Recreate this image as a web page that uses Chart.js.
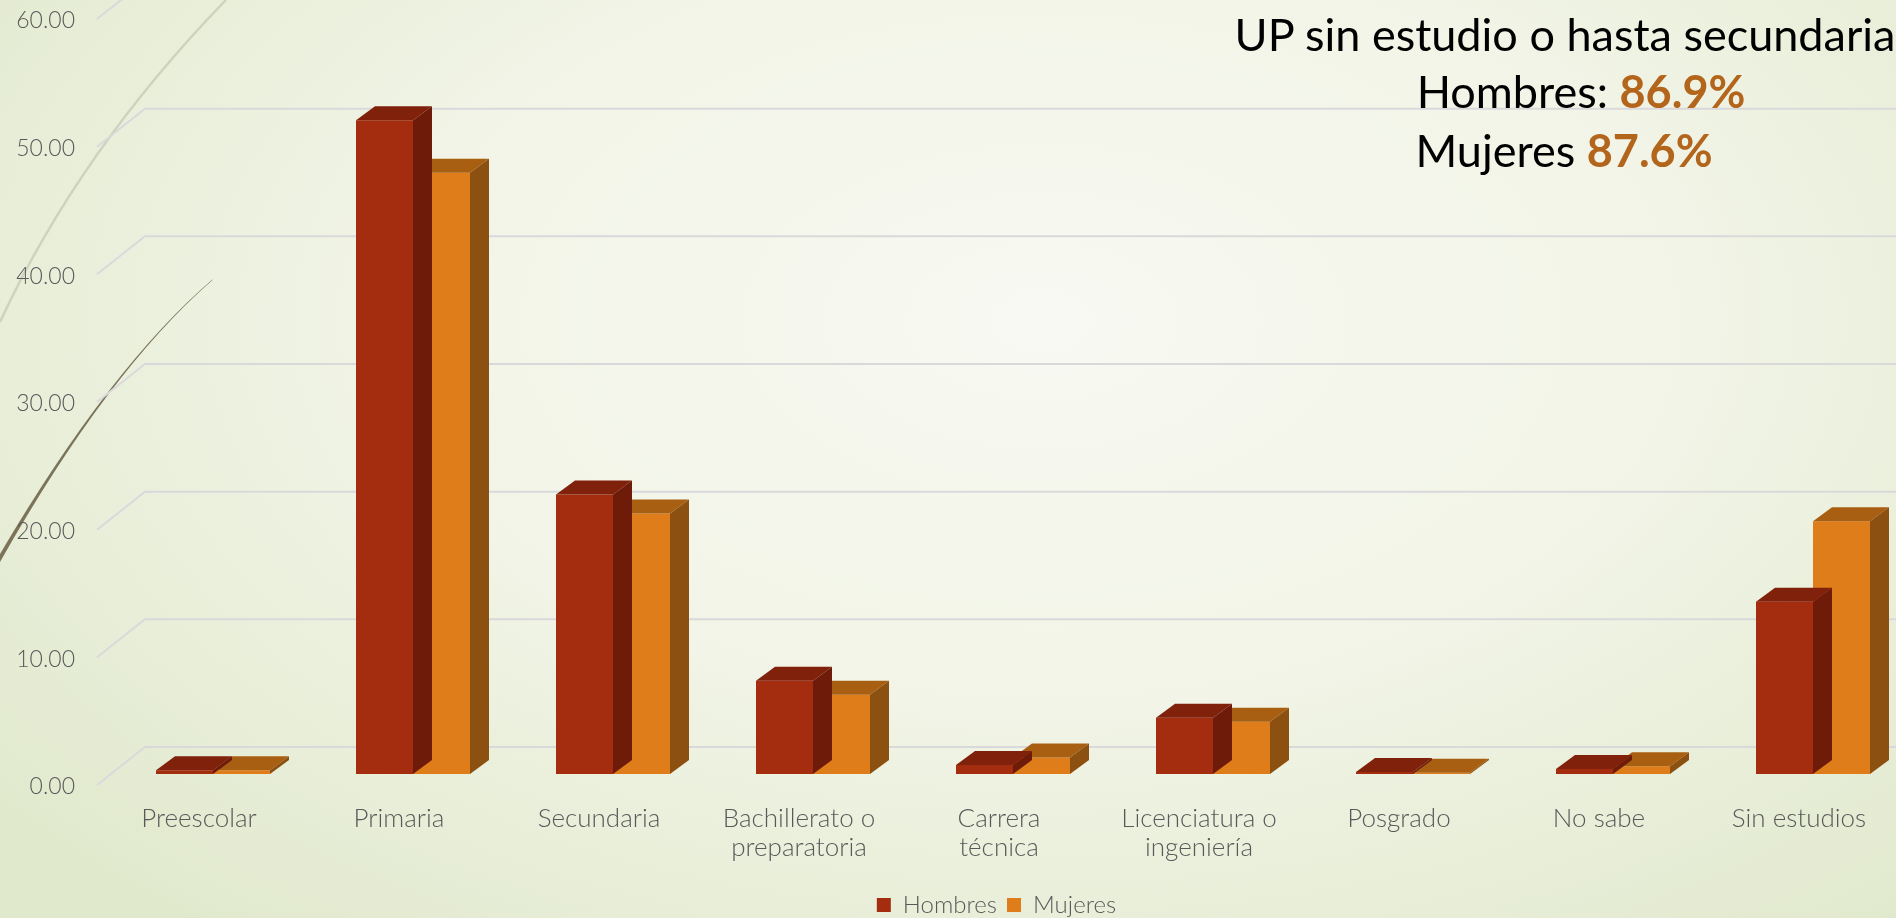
<!DOCTYPE html>
<html>
<head>
<meta charset="utf-8">
<script src="https://cdn.jsdelivr.net/npm/chart.js@4.4.1/dist/chart.umd.min.js"></script>
<style>
  html, body { margin: 0; padding: 0; }
  body {
    width: 1896px; height: 918px; overflow: hidden; position: relative;
    background: radial-gradient(ellipse 70% 85% at 55% 35%, #f8f9f2 0%, #f1f4e6 50%, #e1e9cd 100%);
  }
  #wrap { position: absolute; left: 0; top: 0; width: 1896px; height: 918px; }
  .note {
    position: absolute; transform: translateX(-50%); white-space: nowrap;
    font-family: Lato, sans-serif; font-size: 45px; line-height: 58px; color: #000;
  }
  .note b { color: #b3651c; }
</style>
</head>
<body>
<div id="wrap"><canvas id="chart"></canvas></div>
<div class="note" style="left:1565px; top:5px;">UP sin estudio o hasta secundaria</div>
<div class="note" style="left:1581px; top:62px;">Hombres: <b>86.9%</b></div>
<div class="note" style="left:1564px; top:121px;">Mujeres <b>87.6%</b></div>

<script>
const categories = ['Preescolar', 'Primaria', 'Secundaria', ['Bachillerato o', 'preparatoria'],
  ['Carrera', 'técnica'], ['Licenciatura o', 'ingeniería'], 'Posgrado', 'No sabe', 'Sin estudios'];
const hombres = [0.3, 51.2, 21.9, 7.3, 0.7, 4.4, 0.15, 0.4, 13.5];
const mujeres = [0.3, 47.1, 20.4, 6.2, 1.3, 4.1, 0.1, 0.6, 19.8];
const yTicks = [0, 10, 20, 30, 40, 50, 60];

// fake 3d: depth of a bar
const DX = 19, DY = 14;
const faces = [
  { top: '#80210c', side: '#6e1b0a' },
  { top: '#a85f12', side: '#8c5010' }
];

const backdrop = {
  id: 'backdrop',
  beforeDraw(chart) {
    const ctx = chart.ctx;
    ctx.save();
    // pale swoosh
    ctx.strokeStyle = '#cfd3bd';
    ctx.lineWidth = 2.5;
    ctx.beginPath();
    ctx.moveTo(226, 0);
    ctx.quadraticCurveTo(80, 150, 0, 322);
    ctx.stroke();
    // dark swoosh, thin at the top
    ctx.fillStyle = '#7b7459';
    ctx.beginPath();
    ctx.moveTo(213, 279);
    ctx.quadraticCurveTo(110, 367, 0, 554);
    ctx.lineTo(0, 562);
    ctx.quadraticCurveTo(108, 371, 212, 280.5);
    ctx.closePath();
    ctx.fill();
    ctx.restore();
  }
};

// back wall + floor edge lines
const wallGrid = {
  id: 'wallGrid',
  beforeDatasetsDraw(chart) {
    const { ctx, chartArea } = chart;
    const y = chart.scales.y;
    ctx.save();
    ctx.strokeStyle = '#d9d9dc';
    ctx.lineWidth = 2;
    yTicks.forEach(v => {
      const py = y.getPixelForValue(v);
      ctx.beginPath();
      ctx.moveTo(chartArea.left - 116, py + 11);
      ctx.lineTo(chartArea.left - 68, py - 27);
      ctx.lineTo(chart.width, py - 27);
      ctx.stroke();
    });
    ctx.restore();
  }
};

const bars3d = {
  id: 'bars3d',
  afterDatasetDraw(chart, args) {
    const ctx = chart.ctx;
    const c = faces[args.index];
    args.meta.data.forEach(bar => {
      const { x, y, base, width } = bar.getProps(['x', 'y', 'base', 'width'], true);
      const l = x - width / 2, r = x + width / 2;
      ctx.save();
      ctx.fillStyle = c.top;
      ctx.beginPath();
      ctx.moveTo(l, y);
      ctx.lineTo(l + DX, y - DY);
      ctx.lineTo(r + DX, y - DY);
      ctx.lineTo(r, y);
      ctx.closePath();
      ctx.fill();
      ctx.fillStyle = c.side;
      ctx.beginPath();
      ctx.moveTo(r, y);
      ctx.lineTo(r + DX, y - DY);
      ctx.lineTo(r + DX, base - DY);
      ctx.lineTo(r, base);
      ctx.closePath();
      ctx.fill();
      ctx.restore();
    });
  }
};

// move the legend where the original sits
const legendShift = {
  id: 'legendShift',
  afterLayout(chart) {
    const lg = chart.legend;
    lg.left += 90; lg.right += 90;
    lg.top += 9; lg.bottom += 9;
  }
};

new Chart(document.getElementById('chart'), {
  type: 'bar',
  data: {
    labels: categories,
    datasets: [
      { label: 'Hombres', data: hombres, backgroundColor: '#a52d0f', borderWidth: 0, clip: false },
      { label: 'Mujeres', data: mujeres, backgroundColor: '#df7d1a', borderWidth: 0, clip: false }
    ]
  },
  options: {
    responsive: true,
    maintainAspectRatio: false,
    animation: false,
    categoryPercentage: 0.57,
    barPercentage: 1.0,
    layout: { padding: { top: 8, left: 0, right: 83, bottom: 0 } },
    scales: {
      x: {
        offset: false,
        grid: { display: false, drawTicks: true, tickLength: 27 },
        border: { display: false },
        ticks: {
          color: '#595959',
          font: { family: 'Lato', size: 26, weight: 300, lineHeight: 1.12 },
          padding: 3,
          labelOffset: -14,
          maxRotation: 0,
          autoSkip: false
        },
        afterFit(scale) { scale.height = 100; }
      },
      y: {
        min: 0,
        max: 60,
        grid: { display: false, drawTicks: true, tickLength: 138 },
        border: { display: false },
        ticks: {
          stepSize: 10,
          color: '#595959',
          font: { family: 'Lato', size: 23, weight: 300, lineHeight: 0.5 },
          padding: 0,
          labelOffset: 13,
          callback: v => v.toFixed(2)
        },
        afterFit(scale) { scale.width = 213; }
      }
    },
    plugins: {
      legend: {
        position: 'bottom',
        labels: {
          color: '#595959',
          font: { family: 'Lato', size: 24, weight: 300 },
          boxWidth: 14,
          boxHeight: 14,
          padding: 10
        }
      },
      tooltip: { enabled: false }
    }
  },
  plugins: [backdrop, wallGrid, bars3d, legendShift]
});
</script>
</body>
</html>
